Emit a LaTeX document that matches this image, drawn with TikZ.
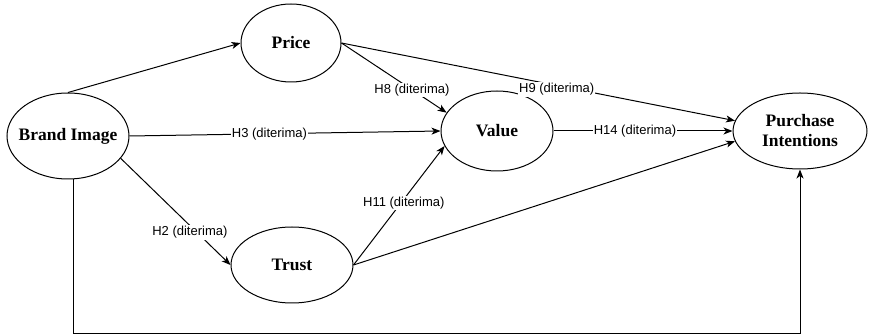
\documentclass[tikz,border=0pt]{standalone}
\usepackage{fontspec}
\setmainfont{Liberation Serif}
\newfontfamily\labelfont{Liberation Sans}
\usetikzlibrary{arrows.meta,shapes.geometric}

\tikzset{
  construct/.style={ellipse, draw, line width=1pt, inner sep=0pt},
  cname/.style={inner sep=0pt, align=center, font=\fontsize{17.5}{20}\selectfont\bfseries},
  arr/.style={-{Stealth[length=9pt,width=7pt,inset=2.5pt]}, line width=1pt},
  lbl/.style={fill=white, inner sep=1pt, font=\labelfont\fontsize{13}{15}\selectfont}
}

\begin{document}
\begin{tikzpicture}[x=1pt,y=-1pt]
  \useasboundingbox (0,0) rectangle (870,336);

  % constructs: outline first, name set on top
  \node[construct, minimum width=122pt, minimum height=86pt] (brand) at (68,136) {};
  \node[construct, minimum width=100pt, minimum height=78pt] (price) at (291,43) {};
  \node[construct, minimum width=112pt, minimum height=80pt] (value) at (497,131) {};
  \node[construct, minimum width=122pt, minimum height=76pt] (trust) at (292,265) {};
  \node[construct, minimum width=134pt, minimum height=76pt] (purchase) at (800,131) {};
  \node[cname] (brand-t) at (brand) {Brand Image};
  \node[cname] (price-t) at (price) {Price};
  \node[cname] (value-t) at (value) {Value};
  \node[cname] (trust-t) at (trust) {Trust};
  \node[cname] (purchase-t) at (purchase) {Purchase\\Intentions};
  \coordinate (loop) at (0,334);

  % hypothesised paths
  \draw[arr] (brand.north) -- (price.west);
  \draw[arr] (brand.east) -- node[lbl, pos=0.45] {H3 (diterima)} (value.west);
  \draw[arr] (brand.-23) -- node[lbl, pos=0.63, yshift=-7pt] {H2 (diterima)} (trust.west);
  \draw[arr] (price.east) -- node[lbl, pos=0.67] {H8 (diterima)} (value.160);
  \draw[arr] (price.east) -- node[lbl, pos=0.547, yshift=-4pt] {H9 (diterima)} (purchase.171);
  \draw[arr] (value.east) -- node[lbl, pos=0.455] {H14 (diterima)} (purchase.west);
  \draw[arr] (trust.east) -- node[lbl, pos=0.52, xshift=3pt] {H11 (diterima)} (value.196);
  \draw[arr] (trust.east) -- (purchase.189);
  \draw[arr] ([xshift=5pt]brand.south) -- ([xshift=5pt]brand.south |- loop) -| (purchase.south);
\end{tikzpicture}
\end{document}
